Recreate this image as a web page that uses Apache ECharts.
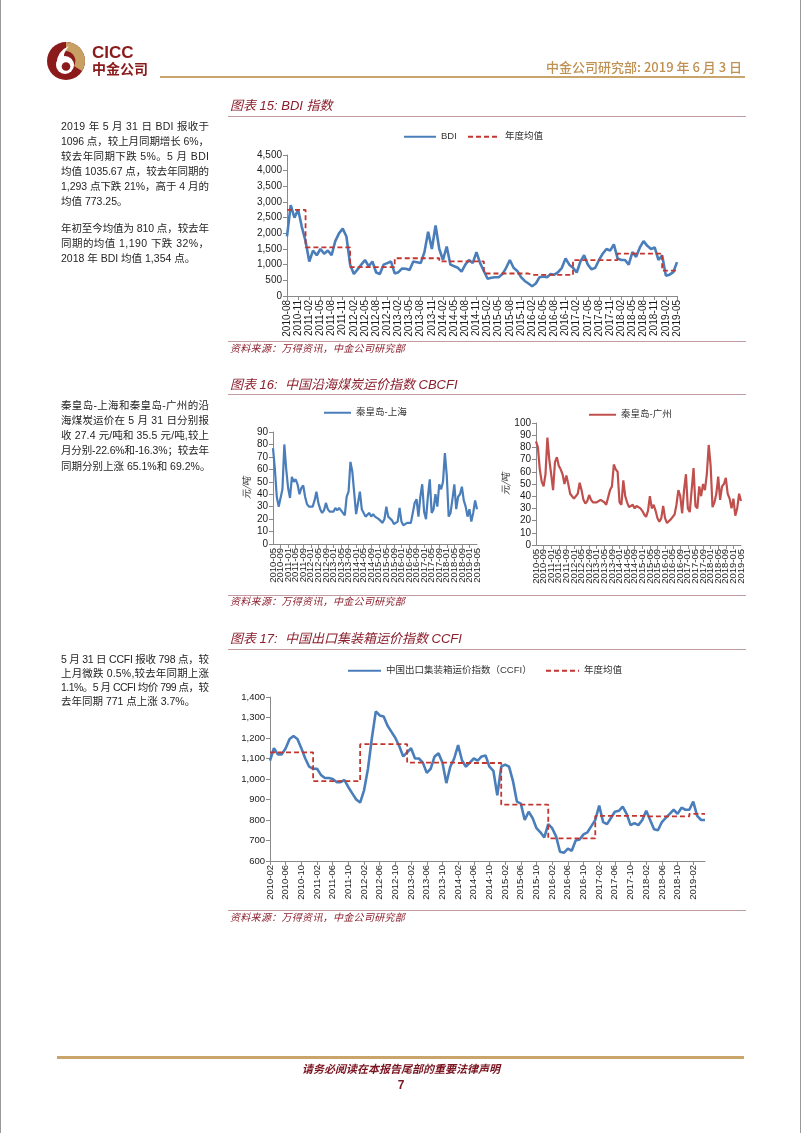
<!DOCTYPE html>
<html><head><meta charset="utf-8">
<script src="https://cdn.jsdelivr.net/npm/echarts@6/dist/echarts.min.js"></script>
<style>
body{margin:0;background:#fff;}
#page{position:relative;width:802px;height:1133px;overflow:hidden;background:#fff;font-family:"Liberation Sans","Noto Sans CJK SC",sans-serif;}
#chart{position:absolute;left:0;top:0;width:802px;height:1133px;}
.t{position:absolute;white-space:nowrap;pointer-events:none;}
.pl{position:absolute;left:61px;width:160px;height:15px;line-height:15px;font-size:10.5px;color:#1e1e1e;white-space:nowrap;text-align:left;font-family:"Liberation Sans","Noto Sans CJK SC",sans-serif;}
.cap{font-size:13px;font-style:italic;color:#8B1F2D;font-family:"Liberation Sans","Noto Sans CJK SC",sans-serif;line-height:16px;}
.src{font-size:10px;letter-spacing:0.3px;font-style:italic;color:#8B1F2D;line-height:12px;}
.hl{position:absolute;left:228px;width:518px;height:1px;background:#C39CA2;}
</style></head>
<body>
<div id="page">
<div id="chart"></div>

<!-- page edges -->
<div style="position:absolute;left:0;top:0;width:1px;height:1133px;background:#9a9a9a"></div>
<div style="position:absolute;left:800px;top:0;width:1px;height:1133px;background:#9a9a9a"></div>

<!-- header -->
<svg style="position:absolute;left:46px;top:40px" width="40" height="42" viewBox="0 0 40 42">
  <circle cx="20" cy="21" r="19" fill="#8B1A1A"/>
  <path d="M20 2 A19 19 0 0 1 36 31 L28 26 A10 10 0 0 0 20 11 Z" fill="#C9A063"/>
  <circle cx="19" cy="25" r="9" fill="#fff"/>
  <path d="M10.5 24 Q11 11 23 6 Q17 13 18 18 Z" fill="#fff"/>
  <circle cx="20" cy="26.5" r="4.3" fill="#8B1A1A"/>
</svg>
<div class="t" style="left:92px;top:44px;font-size:17px;font-weight:bold;color:#8B1A1A;line-height:18px;">CICC</div>
<div class="t" style="left:92px;top:60px;font-size:14px;font-weight:bold;color:#8B1A1A;line-height:16px;font-family:'Noto Sans CJK SC';">中金公司</div>
<div class="t" style="right:60px;top:59px;font-size:13px;color:#BF9051;line-height:16px;font-weight:500;font-family:'Noto Sans CJK SC';">中金公司研究部: 2019 年 6 月 3 日</div>
<div style="position:absolute;left:160px;top:76px;width:585px;height:2px;background:#C9A56B"></div>

<!-- paragraph 1 -->
<div class="pl j" style="top:118.5px"><span>2019 年 5 月 31 日 BDI 报收于</span></div>
<div class="pl j" style="top:133.5px"><span>1096 点，较上月同期增长 6%，</span></div>
<div class="pl j" style="top:148.5px"><span>较去年同期下跌 5%。5 月 BDI</span></div>
<div class="pl j" style="top:163.5px"><span>均值 1035.67 点，较去年同期的</span></div>
<div class="pl j" style="top:178.5px"><span>1,293 点下跌 21%，高于 4 月的</span></div>
<div class="pl" style="top:193.5px"><span>均值 773.25。</span></div>
<div class="pl j" style="top:220.5px"><span>年初至今均值为 810 点，较去年</span></div>
<div class="pl j" style="top:235.5px"><span>同期的均值 1,190 下跌 32%，</span></div>
<div class="pl" style="top:250.5px"><span>2018 年 BDI 均值 1,354 点。</span></div>

<!-- paragraph 2 -->
<div class="pl j" style="top:397.5px"><span>秦皇岛-上海和秦皇岛-广州的沿</span></div>
<div class="pl j" style="top:412.8px"><span>海煤炭运价在 5 月 31 日分别报</span></div>
<div class="pl j" style="top:428.1px"><span>收 27.4 元/吨和 35.5 元/吨,较上</span></div>
<div class="pl j" style="top:443.4px"><span>月分别-22.6%和-16.3%；较去年</span></div>
<div class="pl" style="top:458.7px"><span>同期分别上涨 65.1%和 69.2%。</span></div>

<!-- paragraph 3 -->
<div class="pl j" style="top:651.5px"><span>5 月 31 日 CCFI 报收 798 点，较</span></div>
<div class="pl j" style="top:665.5px"><span>上月微跌 0.5%,较去年同期上涨</span></div>
<div class="pl j" style="top:679.5px"><span>1.1%。5 月 CCFI 均价 799 点，较</span></div>
<div class="pl" style="top:693.5px"><span>去年同期 771 点上涨 3.7%。</span></div>

<!-- chart captions -->
<div class="t cap" style="left:230px;top:98px;">图表 15: BDI 指数</div>
<div class="hl" style="top:116px"></div>
<div class="hl" style="top:341px"></div>
<div class="t src" style="left:230px;top:343px;">资料来源：万得资讯，中金公司研究部</div>

<div class="t cap" style="left:230px;top:377px;">图表 16:&nbsp; 中国沿海煤炭运价指数 CBCFI</div>
<div class="hl" style="top:394px"></div>
<div class="hl" style="top:595px"></div>
<div class="t src" style="left:230px;top:596px;">资料来源：万得资讯，中金公司研究部</div>

<div class="t cap" style="left:230px;top:631px;">图表 17:&nbsp; 中国出口集装箱运价指数 CCFI</div>
<div class="hl" style="top:649px"></div>
<div class="hl" style="top:910px"></div>
<div class="t src" style="left:230px;top:912px;">资料来源：万得资讯，中金公司研究部</div>

<!-- footer -->
<div style="position:absolute;left:57px;top:1056px;width:687px;height:3px;background:#C9A56B"></div>
<div class="t" style="left:0;width:802px;text-align:center;top:1061px;font-size:11px;font-weight:bold;font-style:italic;color:#7A1420;line-height:14px;font-family:'Noto Sans CJK SC';">请务必阅读在本报告尾部的重要法律声明</div>
<div class="t" style="left:0;width:802px;text-align:center;top:1078px;font-size:12px;font-weight:bold;color:#7A1420;line-height:14px;">7</div>
</div>

<script>
// ---------- helpers for month labels ----------
function monthRange(y0, m0, y1, m1) {
  const out = [];
  let y = y0, m = m0;
  while (y < y1 || (y === y1 && m <= m1)) {
    out.push(y + '-' + String(m).padStart(2, '0'));
    m++; if (m > 12) { m = 1; y++; }
  }
  return out;
}

// ---------- 图表15 BDI ----------
const bdiCategories = monthRange(2010, 8, 2019, 5);
const bdiValues = [
  1900, 2900, 2500, 2750, 2200,
  1750, 1100, 1450, 1300, 1500, 1350, 1450, 1300, 1750, 2000, 2150, 1900,
  1000, 700, 850, 1000, 1150, 950, 1100, 750, 700, 1000, 1050, 1100,
  720, 760, 880, 870, 830, 1100, 1080, 1050, 1400, 2050, 1500, 2250,
  1500, 1150, 1580, 1000, 950, 900, 780, 1000, 1150, 1050, 1400, 1050,
  800, 550, 580, 600, 600, 700, 900, 1150, 900, 800, 600, 480,
  400, 310, 400, 600, 620, 600, 700, 680, 760, 900, 1200, 1000,
  900, 750, 1100, 1300, 1000, 850, 900, 1150, 1350, 1500, 1450, 1650,
  1200, 1150, 1150, 1000, 1400, 1250, 1550, 1750, 1600, 1500, 1550, 1150,
  1300, 650, 680, 760, 1080
];
const bdiYearAvg = {2010: 2750, 2011: 1550, 2012: 920, 2013: 1205, 2014: 1105, 2015: 718, 2016: 673, 2017: 1145, 2018: 1353, 2019: 810};
const bdiAvgValues = bdiCategories.map(c => bdiYearAvg[c.slice(0, 4)]);

// ---------- 图表16 CBCFI ----------
const cbcfiCategories = monthRange(2010, 5, 2019, 5);
const qhdShanghai = [
  77, 60, 38, 30, 31, 44, 80, 60,
  45, 37, 54, 50, 52, 48, 40, 45, 47, 38, 32, 30,
  29, 30, 35, 42, 33, 28, 25, 27, 33, 28, 26, 27,
  26, 29, 27, 29, 27, 25, 23, 38, 42, 66, 58, 58,
  24, 23, 42, 28, 28, 22, 22, 25, 22, 24, 22, 21,
  20, 19, 17, 20, 30, 22, 21, 19, 16, 15, 18, 29,
  18, 15, 14, 17, 18, 17, 25, 33, 36, 22, 38, 48,
  26, 20, 38, 52, 25, 28, 40, 30, 48, 44, 50, 73,
  55, 22, 25, 36, 48, 28, 38, 40, 46, 35, 30, 22,
  28, 18, 25, 35, 28
];
const qhdGuangzhou = [
  85, 80, 62, 52, 48, 58, 88, 70,
  58, 45, 68, 72, 65, 62, 58, 50, 57, 50, 42, 40,
  38, 39, 42, 51, 45, 37, 34, 36, 41, 37, 35, 34,
  35, 34, 37, 37, 35, 33, 34, 45, 48, 66, 62, 60,
  35, 33, 53, 40, 35, 31, 31, 33, 30, 32, 31, 30,
  28, 25, 23, 28, 40, 30, 33, 28, 22, 19, 22, 32,
  22, 18, 17, 21, 22, 25, 33, 45, 40, 26, 45, 58,
  30, 27, 45, 63, 32, 30, 48, 40, 50, 45, 58, 82,
  65, 31, 35, 42, 56, 37, 48, 50, 55, 42, 38, 30,
  38, 24, 30, 42, 36
];

// ---------- 图表17 CCFI ----------
const ccfiCategories = monthRange(2010, 2, 2019, 5);
const ccfiValues = [
  1090, 1150, 1120, 1120, 1150, 1195, 1210, 1195, 1150, 1100, 1060,
  1050, 1050, 1020, 1005, 1005, 1000, 985, 985, 995, 960, 930, 900,
  885, 945, 1050, 1200, 1330, 1310, 1305, 1260, 1230, 1200, 1160, 1110,
  1130, 1150, 1100, 1100, 1080, 1030, 1050, 1110, 1125, 1080, 980, 1060,
  1100, 1165, 1090, 1060, 1080, 1100, 1090, 1110, 1115, 1060, 1040, 920,
  1060, 1070, 1060, 990, 890, 880, 800, 840, 810, 760, 740, 715,
  780, 760, 720, 645, 640, 660, 650, 700, 705, 730, 740, 770,
  800, 870, 790, 780, 810, 840, 845, 865, 830, 775, 785, 775,
  800, 845, 800, 755, 750, 790, 810, 830, 850, 830, 860, 850,
  850, 890, 820, 800, 800
];
const ccfiYearAvg = {2010: 1130, 2011: 990, 2012: 1170, 2013: 1080, 2014: 1078, 2015: 875, 2016: 710, 2017: 820, 2018: 818, 2019: 830};
const ccfiAvgValues = ccfiCategories.map(c => ccfiYearAvg[c.slice(0, 4)]);

// ---------- option ----------
const FONT = '"Liberation Sans","Noto Sans CJK SC",sans-serif';
const AXIS_COLOR = '#8a8a8a';
const BLUE = '#4A7EBB';
const RED = '#C0504D';
const DASH_RED = '#C3352F';

function fmtComma(v) { return String(v).replace(/\B(?=(\d{3})+(?!\d))/g, ','); }

function xAxis(gridIndex, cats, interval, fontSize, ends) {
  // ends: true -> force first/last; false -> let them drop (companion axis draws them)
  return {
    type: 'category', gridIndex, data: cats, boundaryGap: false,
    axisLine: {lineStyle: {color: AXIS_COLOR, width: 1}},
    axisTick: {show: true, interval, length: 4, lineStyle: {color: AXIS_COLOR}},
    axisLabel: {interval, rotate: 90, fontSize, color: '#1a1a1a', margin: 4, fontFamily: FONT,
      showMinLabel: ends, showMaxLabel: ends},
    splitLine: {show: false}
  };
}
// companion axis that only carries the first and last tick labels of a dense axis
function endLabelAxis(gridIndex, cats, fontSize) {
  const last = cats.length - 1;
  return {
    type: 'category', gridIndex, data: cats, boundaryGap: false, position: 'bottom',
    axisLine: {show: false}, axisTick: {show: false}, splitLine: {show: false},
    axisLabel: {interval: (i) => i === 0 || i === last, rotate: 90, fontSize, color: '#1a1a1a', margin: 4,
      fontFamily: FONT, showMinLabel: true, showMaxLabel: true}
  };
}
function yAxis(gridIndex, min, max, interval, fontSize, comma, name, nameGap) {
  const a = {
    type: 'value', gridIndex, min, max, interval,
    axisLine: {show: true, lineStyle: {color: AXIS_COLOR, width: 1}},
    axisTick: {show: true, length: 4, lineStyle: {color: AXIS_COLOR}},
    axisLabel: {fontSize, color: '#1a1a1a', margin: 5, fontFamily: FONT, formatter: comma ? fmtComma : null},
    splitLine: {show: false}
  };
  if (name) {
    Object.assign(a, {name, nameLocation: 'middle', nameGap, nameRotate: 90,
      nameTextStyle: {fontSize: 9.5, color: '#333', fontFamily: '"Noto Sans CJK SC"', fontStyle: 'italic'}});
  }
  return a;
}
function legend(left, top, name, w) {
  return {left, top, data: [name], itemWidth: w, itemHeight: 2, padding: 0,
    itemStyle: {opacity: 0},
    textStyle: {fontSize: 9.5, color: '#333', fontFamily: FONT}};
}

const option = {
  animation: false,
  backgroundColor: 'transparent',
  textStyle: {fontFamily: FONT},
  legend: [
    legend(403, 132, 'BDI', 32),
    legend(467, 132, '年度均值', 32),
    legend(323, 408, '秦皇岛-上海', 27),
    legend(588, 410, '秦皇岛-广州', 27),
    legend(347, 666, '中国出口集装箱运价指数（CCFI）', 33),
    legend(545, 666, '年度均值', 33)
  ],
  grid: [
    {left: 287, top: 155, width: 390, height: 141},
    {left: 273, top: 432, width: 204, height: 112},
    {left: 536, top: 423, width: 205, height: 122},
    {left: 270, top: 697, width: 435, height: 164}
  ],
  xAxis: [
    xAxis(0, bdiCategories, 2, 10, true),
    xAxis(1, cbcfiCategories, 3, 9.5, false),
    xAxis(2, cbcfiCategories, 3, 9.5, false),
    xAxis(3, ccfiCategories, 3, 9.5, null),
    endLabelAxis(1, cbcfiCategories, 9.5),
    endLabelAxis(2, cbcfiCategories, 9.5)
  ],
  yAxis: [
    yAxis(0, 0, 4500, 500, 10, true),
    yAxis(1, 0, 90, 10, 10, false, '元/吨', 22),
    yAxis(2, 0, 100, 10, 10, false, '元/吨', 26),
    yAxis(3, 600, 1400, 100, 9.5, true)
  ],
  series: [
    {name: 'BDI', type: 'line', xAxisIndex: 0, yAxisIndex: 0, data: bdiValues, symbol: 'none',
      lineStyle: {color: BLUE, width: 2.6}, itemStyle: {color: BLUE}},
    {name: '年度均值', type: 'line', xAxisIndex: 0, yAxisIndex: 0, data: bdiAvgValues, symbol: 'none', step: 'end',
      lineStyle: {color: DASH_RED, width: 1.8, type: [5, 3]}, itemStyle: {color: DASH_RED}},
    {name: '秦皇岛-上海', type: 'line', xAxisIndex: 1, yAxisIndex: 1, data: qhdShanghai, symbol: 'none',
      lineStyle: {color: BLUE, width: 2.2}, itemStyle: {color: BLUE}},
    {name: '秦皇岛-广州', type: 'line', xAxisIndex: 2, yAxisIndex: 2, data: qhdGuangzhou, symbol: 'none',
      lineStyle: {color: RED, width: 2.2}, itemStyle: {color: RED}},
    {name: '中国出口集装箱运价指数（CCFI）', type: 'line', xAxisIndex: 3, yAxisIndex: 3, data: ccfiValues, symbol: 'none',
      lineStyle: {color: BLUE, width: 2.6}, itemStyle: {color: BLUE}},
    {name: '年度均值', type: 'line', xAxisIndex: 3, yAxisIndex: 3, data: ccfiAvgValues, symbol: 'none', step: 'end',
      lineStyle: {color: DASH_RED, width: 1.8, type: [5, 3]}, itemStyle: {color: DASH_RED}}
  ]
};

const chart = echarts.init(document.getElementById('chart'), null, {renderer: 'canvas'});
chart.setOption(option);

// justify paragraph lines to a 148px column
function justifyLines() {
  const target = 148;
  document.querySelectorAll('.pl.j span').forEach(sp => {
    sp.style.letterSpacing = '0px';
    const w = sp.getBoundingClientRect().width;
    const n = sp.textContent.length;
    if (n > 1) sp.style.letterSpacing = ((target - w) / (n - 1)).toFixed(3) + 'px';
  });
}
justifyLines();
if (document.fonts && document.fonts.ready) document.fonts.ready.then(justifyLines);
</script>
</body></html>
